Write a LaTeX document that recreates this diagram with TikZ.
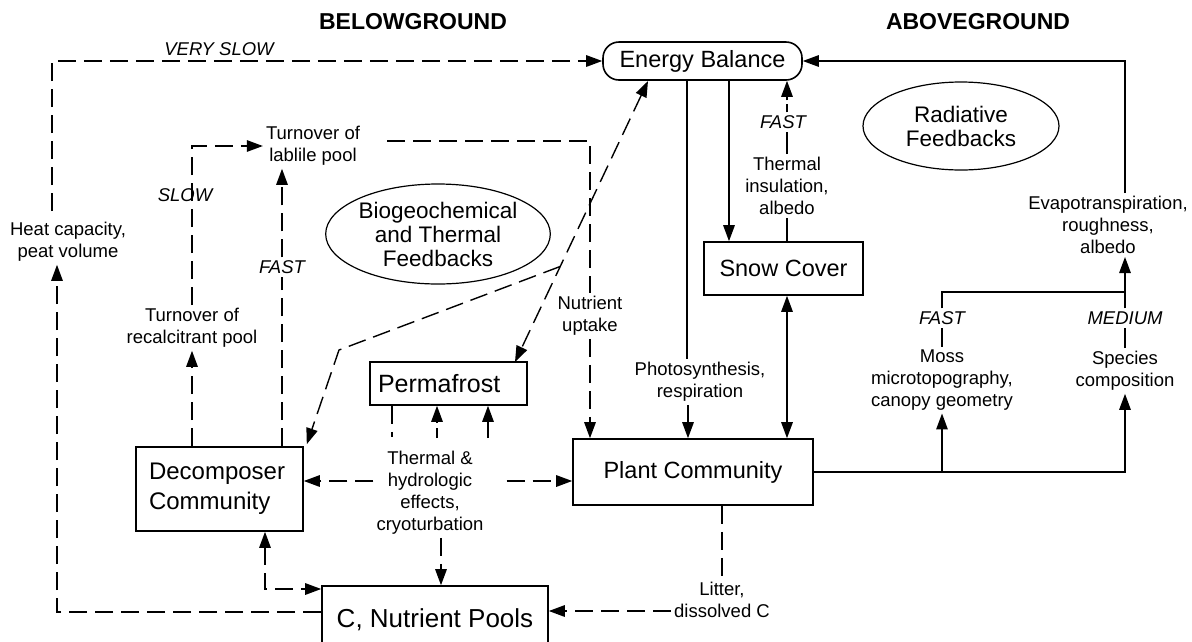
\documentclass[tikz,border=0pt]{standalone}
\usepackage{fontspec}
\setmainfont{Liberation Sans}
\usepackage{tikz}
\usetikzlibrary{shapes,arrows,arrows.meta,fit,positioning,calc}

\tikzset{
  box/.style={draw, line width=1.6pt, font=\fontsize{23.5}{30}\selectfont, inner sep=0pt, align=center},
  roundbox/.style={box, rounded corners=16pt},
  ell/.style={draw, ellipse, line width=1.2pt, inner sep=0pt, font=\fontsize{22.5}{24}\selectfont, align=center},
  lbl/.style={font=\fontsize{18.5}{22}\selectfont, align=center, inner sep=3pt},
  rate/.style={font=\fontsize{18.5}{20}\selectfont\itshape, inner sep=3pt},
  hdr/.style={font=\fontsize{23}{24}\selectfont\bfseries},
  conn/.style={line width=1.4pt},
  dsh/.style={conn, dash pattern=on 18pt off 8pt},
  >={Triangle[length=16pt,width=11.5pt]}
}

\begin{document}
\begin{tikzpicture}[x=1pt, y=-1pt]
\clip (0,0) rectangle (1192,641);

% headings
\node[hdr] (below) at (413,22) {BELOWGROUND};
\node[hdr] (above) at (978,22) {ABOVEGROUND};

% boxes and feedback loops
\node[roundbox, minimum width=199pt, minimum height=38pt] (eb) at (702.5,61) {Energy Balance};
\node[ell, minimum width=220pt, minimum height=100pt] (bio) at (438,234) {Biogeochemical\\and Thermal\\Feedbacks};
\node[ell, minimum width=196pt, minimum height=88pt] (rad) at (961,126) {Radiative\\Feedbacks};
\node[box, minimum width=159pt, minimum height=53pt] (snow) at (783.5,268.5) {Snow Cover};
\node[box, minimum height=43pt, text width=141pt, inner xsep=8pt, align=left, font=\fontsize{25}{30}\selectfont] (perma) at (448.5,383.5) {Permafrost};
\node[box, minimum height=84pt, text width=141pt, inner xsep=13pt, align=left, font=\fontsize{24}{30}\selectfont] (decomp) at (219.5,489) {Decomposer\\Community};
\node[box, minimum width=240pt, minimum height=66pt] (plant) at (693,472) {Plant Community};
\node[box, minimum width=226pt, minimum height=68pt, font=\fontsize{26}{28}\selectfont] (pools) at (435,620) {C, Nutrient Pools};

% labels
\node[lbl] (heat) at (68,242) {Heat capacity,\\peat volume};
\node[lbl] (labile) at (313,146) {Turnover of\\lablile pool};
\node[lbl] (recalc) at (192,328) {Turnover of\\recalcitrant pool};
\node[lbl] (uptake) at (590,316) {Nutrient\\uptake};
\node[lbl] (thermal) at (430,493) {Thermal \&\\hydrologic\\effects,\\cryoturbation};
\node[lbl] (photo) at (700,382) {Photosynthesis,\\respiration};
\node[lbl] (insul) at (787,186) {Thermal\\insulation,\\albedo};
\node[lbl] (evapo) at (1108,225) {Evapotranspiration,\\roughness,\\albedo};
\node[lbl] (moss) at (942,380) {Moss\\microtopography,\\canopy geometry};
\node[lbl] (species) at (1125,371) {Species\\composition};
\node[lbl] (litter) at (722,600) {Litter,\\dissolved C};

% rates
\node[rate] (vslow) at (219,49) {VERY SLOW};
\node[rate] (slow) at (185,195) {SLOW};
\node[rate] (fastbg) at (282,267) {FAST};
\node[rate] (fastsn) at (783,122) {FAST};
\node[rate] (fastms) at (942,318) {FAST};
\node[rate] (medium) at (1125,318) {MEDIUM};

% helper columns
\coordinate (lefttop) at (52,0);
\coordinate (leftbot) at (57,0);
\coordinate (join) at (1125,292);
\coordinate (bend) at (339,350);
\coordinate (ebfoot) at (648,81);
\coordinate (permatop) at (515,362);

% belowground connectors
\draw[dsh,->] ([yshift=8pt]heat.north -| lefttop) |- (eb.west);
\draw[dsh,->] ([yshift=8pt]pools.west) -| (heat.south -| leftbot);
\draw[dsh,->] (decomp.north -| recalc) -- (recalc.south);
\draw[dsh,->] (recalc.north) |- (labile.west);
\draw[dsh] (decomp.north -| fastbg) -- (fastbg.south);
\draw[dsh,->] (fastbg.north) -- (labile.south -| fastbg);
\draw[dsh] ([xshift=24pt,yshift=5pt]labile.east) -| (uptake.north);
\draw[dsh,->] (uptake.south) -- (plant.north -| uptake);
\draw[dsh,<->] (ebfoot) -- (permatop);
\draw[dsh,->] ($(ebfoot)!0.66!(permatop)$) -- (bend) -- ([xshift=3pt,yshift=2pt]decomp.north east);
\draw[dsh] (perma.south -| 392,0) -- (392,437);
\draw[conn, dash pattern=on 10pt off 5pt, ->] (437,438) -- (perma.south -| 437,0);
\draw[conn,->] (488,438) -- (perma.south -| 488,0);
\draw[dsh,->] ([yshift=12pt]thermal.west) -- ([yshift=12pt]thermal.west -| decomp.east);
\draw[dsh,->] ([xshift=20pt,yshift=12pt]thermal.east) -- ([yshift=12pt]thermal.east -| plant.west);
\draw[dsh,->] (thermal.south -| 441,0) -- (pools.north -| 441,0);
\draw[dsh,<->] (decomp.south -| 265,0) |- ([yshift=31pt]pools.west);
\draw[dsh] (plant.south -| litter) -- (litter.north);
\draw[dsh,->] ([yshift=-11pt]litter.west) -- ([yshift=-11pt]litter.west -| pools.east);

% aboveground connectors
\draw[conn] (eb.south -| 687,0) -- (photo.north -| 687,0);
\draw[conn,->] (photo.south -| 688,0) -- (plant.north -| 688,0);
\draw[conn,->] (eb.south -| 729,0) -- (snow.north -| 729,0);
\draw[conn,<->] (snow.south -| 787,0) -- (plant.north -| 787,0);
\draw[conn] (snow.north -| insul) -- (insul.south);
\draw[conn] (insul.north) -- (fastsn.south -| insul);
\draw[conn, dash pattern=on 8pt off 4pt, ->] (fastsn.north -| insul) -- (eb.south -| insul);
\draw[conn,->] (plant.east) -| (species.south -| join);
\draw[conn,->] (plant.east -| moss) -- (moss.south);
\draw[conn] (moss.north) -- (fastms.south);
\draw[conn] (species.north -| join) -- (medium.south -| join);
\draw[conn] (fastms.north) |- (join);
\draw[conn,->] (medium.north -| join) -- (evapo.south -| join);
\draw[conn,->] (evapo.north -| join) |- (eb.east);

\end{tikzpicture}
\end{document}
